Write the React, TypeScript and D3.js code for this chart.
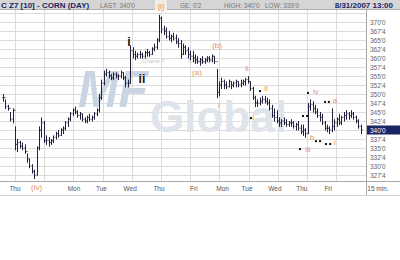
import React from "react";
import * as d3 from "d3";

const highs = [350,348.5,347,345,346,341,337.5,337,336.5,336,333.5,332,330.5,329,335.5,341,343.5,342.5,338.5,338,337.5,338.5,339.5,340,340.5,341,342.5,343.5,345,346,346.5,345.5,345,344.5,343.5,344,344.5,344,345,346,350,354,356.5,357,356.5,355.5,356,356,355.5,356.5,356,355,354,363.5,363,362,361.5,362,361.5,362,362.5,362,363,364,365.5,372,371.5,369,368.5,367.5,366.5,367,366.5,365.5,365,364,363.5,363,362,362,361,360.5,360,360.5,360,360.5,360.5,361,360.5,357,353.5,354.5,354,353.5,354,353.5,353.5,354,353.5,354,354,354.5,355,353.5,352,349.5,348.5,349,349.5,349.5,349,348.5,347,346,345.5,343.5,343,343.5,343,342.5,343,342.5,342,342.5,341.5,341.5,340.5,347.5,348.5,348,347,346,345,344.5,342.5,341.5,341,346,343,343.5,344.5,344,345,345.5,345,345.5,345,344,343,341.5];
const lows = [348,346,345.5,342.5,342,334.5,334,335,334.5,333.5,331,329.5,328,326.5,327.5,334.5,338,336.5,336,335.5,336,336.5,337.5,338,338.5,339,340,341,342.5,344,344.5,343.5,343,342.5,342,342,342.5,342.5,343,344,345,348.5,352.5,355,354.5,354,354,354.5,354,354.5,354,352,352,353,360,359.5,360,360,360,360,360.5,360.5,361,362,362.5,364.5,367,366.5,365.5,365,364.5,365,364,363,360,361,361,360,359.5,359,358.5,358.5,358,358.5,358.5,359,359,359,358.5,349,349.5,351.5,351.5,351.5,352,351.5,352,352,352,352,352.5,352.5,353,351,348.5,346.5,346.5,347,347.5,347.5,347,345.5,343.5,342.5,342,341,341,341.5,341,341,341,340.5,340,340,339,338.5,338,339,345.5,345,344.5,343.5,342.5,341.5,340,339.5,339,339.5,340,341,341.5,341.5,342.5,343,343,343.5,343,342,340.5,339];
const closes = [349,346.5,346,343,345.5,336,336.5,335.5,335,334,332,330,328.5,327.5,335,340,342,337,337,336.5,337,338,339,338.5,340,340.5,342,343,344.5,345.5,345,344,344.5,343,342.5,343.5,343,343.5,344.5,345.5,349,353,355.5,356,355,354.5,355.5,355,355,356,354.5,353,353,362,361,360.5,361,361,360.5,361.5,361.5,361,362.5,363,365,371,368,367.5,366,365.5,366,365.5,364.5,364,361,363,362,361,360.5,360,359.5,359,359.5,359,359.5,360,359.5,360.5,359,350.5,352.5,353.5,352.5,352,353.5,352.5,353,353.5,352.5,353,353.5,354,353.5,351.5,349,347.5,347.5,348,348.5,348,347.5,346,344,343.5,342.5,342,342.5,342,341.5,342,342,341,341.5,340.5,339.5,340,339,346.5,347,346,345,344,343.5,342,340.5,340.5,340,341,342,343,342,343.5,344,344.5,344,344.5,343.5,342.5,341,340];

const priceTicks = [370,367.5,365,362.5,360,357.5,355,352.5,350,347.5,345,342.5,340,337.5,335,332.5,330,327.5];
const gridBars = [5,17.2,29.3,41.5,53.7,65.8,78,90.2,102.3,114.5,126.7,138.8];
const dayLabels = ["Thu","Mon","Tue","Wed","Thu","Fri","Mon","Tue","Wed","Thu","Fri"];
const dayLabelBars = [5,29.6,41,53,65,79.5,91.5,101.7,113.3,124.5,135.5];
const lastPrice = 340;

const noteTexts = ["i","ii","(a)","(b)","i","ii","ii","i","iv","a","b","i","iii"];
const noteBars = [52.5,57.9,80.8,89.2,90,101.7,109.6,104.2,130.4,138.3,128.75,138.3,127.1];
const notePrices = [364.4,354.2,356.1,363.6,346.7,357.2,351.4,343.6,350.6,348.3,337.8,336.4,334.7];
const noteBlack = [true,true,false,false,false,false,false,false,false,false,false,false,false];
const dotBars = [107.1,103.3,127.1,134.2,135.8,125,126.7,130.4,132.1,134.6,136.3,123.75];
const dotPrices = [350.8,343.3,350.3,347.8,347.8,343.9,343.9,336.9,336.9,336.1,336.1,334.7];

const fmt = (p: number) => {
  const w = Math.floor(p);
  const f = Math.round((p - w) * 8);
  return `${w}'${f}`;
};

const ORANGE = "#e0945e";
const NAVY = "#1c2465";
const FONT = "Liberation Sans, Arial, sans-serif";

export default function App() {
  const W = 400, H = 260;
  const plotTop = 10, plotBottom = 181, axisX = 366;
  const x = d3.scaleLinear().domain([0, highs.length - 1]).range([3, 360.6]);
  const y = d3.scaleLinear().domain([327.5, 370]).range([175, 22]);

  return (
    <svg width={W} height={H} style={{ position: "absolute", left: 0, top: 0, background: "#fff" }} fontFamily={FONT}>
      <rect x={0} y={0} width={W} height={H} fill="#fff" />
      {/* header */}
      <rect x={0} y={0} width={W} height={plotTop} fill="#d5d5d5" />
      <line x1={0} x2={W} y1={plotTop - 0.5} y2={plotTop - 0.5} stroke="#b0b0b0" />
      {/* horizontal grid */}
      {[372.5, ...priceTicks].map((p, i) => (
        <line key={"h" + i} x1={0} x2={axisX} y1={Math.round(y(p)) + 0.5} y2={Math.round(y(p)) + 0.5} stroke="#dcdcdc" />
      ))}
      {gridBars.map((b, i) => (
        <line key={"v" + i} x1={Math.round(x(b)) + 0.5} x2={Math.round(x(b)) + 0.5} y1={plotTop} y2={plotBottom} stroke="#dcdcdc" />
      ))}
      {/* watermark */}
      <text x={78} y={107} fontSize={52} fontWeight="bold" fontStyle="italic" fill="#cbd4e2" textLength={70} lengthAdjust="spacingAndGlyphs">MF</text>
      <text x={150} y={132} fontSize={44} fontWeight="bold" fill="#dfe3ea">Global</text>
      <text x={142} y={63} fontSize={6} fill="#c8c8c8">Charts 7</text>
      <text x={188} y={63} fontSize={6} fill="#c8c8c8">Sierra Ch</text>
      {/* bars */}
      {highs.map((h, i) => {
        const cx = Math.round(x(i)) + 0.5;
        const o = i > 0 ? closes[i - 1] : closes[0];
        return (
          <g key={"b" + i} stroke="#23233f" strokeWidth={1}>
            <line x1={cx} x2={cx} y1={y(h)} y2={y(lows[i]) + 0.5} />
            <line x1={cx - 1} x2={cx} y1={y(o)} y2={y(o)} />
            <line x1={cx} x2={cx + 1} y1={y(closes[i])} y2={y(closes[i])} />
          </g>
        );
      })}
      {/* annotations */}
      {noteTexts.map((t, i) => (
        <text key={"n" + i} x={x(noteBars[i])} y={y(notePrices[i])} textAnchor="middle" dominantBaseline="central"
          fontSize={noteBlack[i] ? 12 : 8} fontWeight={noteBlack[i] ? "bold" : "normal"} fill={noteBlack[i] ? "#111" : ORANGE}>
          {t}
        </text>
      ))}
      {dotBars.map((b, i) => (
        <rect key={"d" + i} x={x(b) - 1} y={y(dotPrices[i]) - 1} width={2} height={2} fill="#111" />
      ))}
      {/* right axis */}
      <line x1={axisX + 0.5} x2={axisX + 0.5} y1={plotTop} y2={195} stroke="#a8a8a8" />
      <line x1={0} x2={W} y1={plotBottom + 0.5} y2={plotBottom + 0.5} stroke="#a8a8a8" />
      <line x1={0} x2={W} y1={195.5} y2={195.5} stroke="#d0d0d0" />
      {priceTicks.map((p, i) => (
        <text key={"p" + i} x={370} y={y(p)} dominantBaseline="central" fontSize={6.5} fill="#666">{fmt(p)}</text>
      ))}
      <rect x={367} y={y(lastPrice) - 4.5} width={33} height={9} fill={NAVY} />
      <text x={370} y={y(lastPrice)} dominantBaseline="central" fontSize={6.5} fill="#fff">{fmt(lastPrice)}</text>
      {/* x labels */}
      {dayLabels.map((d, i) => (
        <text key={"x" + i} x={x(dayLabelBars[i])} y={188} textAnchor="middle" dominantBaseline="central" fontSize={6.5} fill="#555">{d}</text>
      ))}
      <rect x={x(14) - 8} y={182} width={16} height={12} fill="#fff" />
      <text x={x(14)} y={187} textAnchor="middle" dominantBaseline="central" fontSize={8} fill={ORANGE}>(iv)</text>
      <text x={378} y={188} textAnchor="middle" dominantBaseline="central" fontSize={6.5} fill="#555">15 min.</text>
      {/* header texts */}
      <text x={1} y={5} dominantBaseline="central" fontSize={8} fontWeight="bold" fill={NAVY}>C Z7 [10] - CORN (DAY)</text>
      <text x={100} y={5} dominantBaseline="central" fontSize={6.5} fill="#777">LAST: {fmt(lastPrice)}</text>
      <text x={180} y={5} dominantBaseline="central" fontSize={6.5} fill="#777">GE: 0'2</text>
      <text x={224} y={5} dominantBaseline="central" fontSize={6.5} fill="#777">HIGH: 340'0</text>
      <text x={265} y={5} dominantBaseline="central" fontSize={6.5} fill="#777">LOW: 339'0</text>
      <text x={393} y={5} textAnchor="end" dominantBaseline="central" fontSize={8} fontWeight="bold" fill={NAVY}>8/31/2007 13:00</text>
      <rect x={155} y={0} width={12} height={10} fill="#f3ece6" />
      <text x={161} y={6} textAnchor="middle" dominantBaseline="central" fontSize={8} fill={ORANGE}>[i]</text>
    </svg>
  );
}
